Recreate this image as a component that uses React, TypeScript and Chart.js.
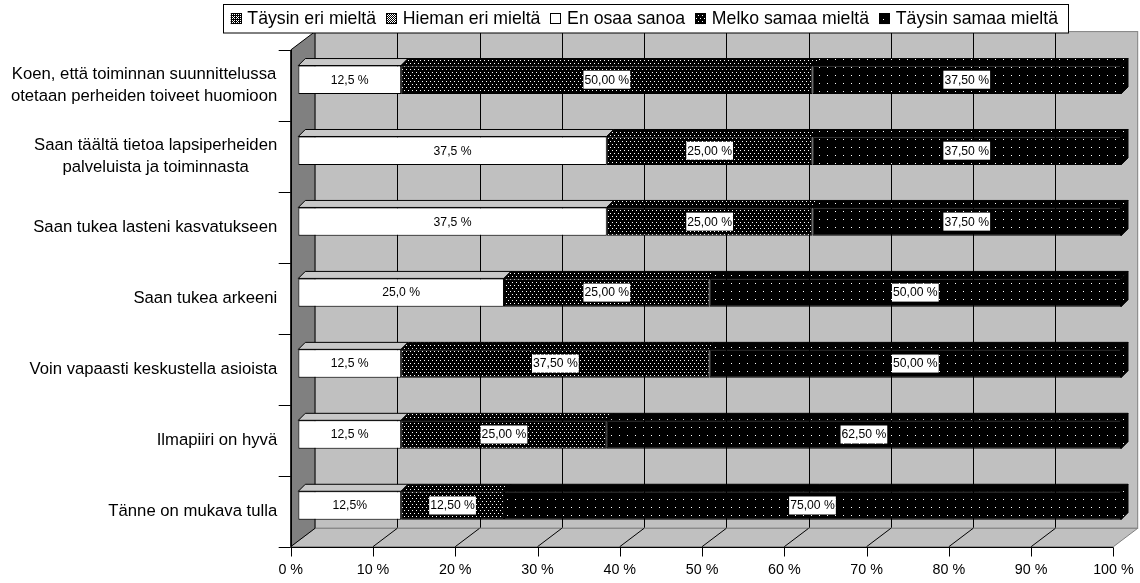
import React, { useEffect, useRef } from "react";
import { Chart, registerables } from "chart.js";

Chart.register(...registerables);

const categories: (string | string[])[] = [
  ["Koen, että toiminnan suunnittelussa", "otetaan perheiden toiveet huomioon"],
  ["Saan täältä tietoa lapsiperheiden", "palveluista ja toiminnasta"],
  "Saan tukea lasteni kasvatukseen",
  "Saan tukea arkeeni",
  "Voin vapaasti keskustella asioista",
  "Ilmapiiri on hyvä",
  "Tänne on mukava tulla",
];

const seriesNames = [
  "Täysin eri mieltä",
  "Hieman eri mieltä",
  "En osaa sanoa",
  "Melko samaa mieltä",
  "Täysin samaa mieltä",
];

const taysinEri = [0, 0, 0, 0, 0, 0, 0];
const hiemanEri = [0, 0, 0, 0, 0, 0, 0];
const enOsaa = [12.5, 37.5, 37.5, 25, 12.5, 12.5, 12.5];
const melko = [50, 25, 25, 25, 37.5, 25, 12.5];
const taysinSamaa = [37.5, 37.5, 37.5, 50, 50, 62.5, 75];

const enOsaaLabels = ["12,5 %", "37,5 %", "37,5 %", "25,0 %", "12,5 %", "12,5 %", "12,5%"];
const melkoLabels = ["50,00 %", "25,00 %", "25,00 %", "25,00 %", "37,50 %", "25,00 %", "12,50 %"];
const taysinSamaaLabels = ["37,50 %", "37,50 %", "37,50 %", "50,00 %", "50,00 %", "62,50 %", "75,00 %"];

const xTicks = [0, 10, 20, 30, 40, 50, 60, 70, 80, 90, 100];
const xTickLabels = ["0 %", "10 %", "20 %", "30 %", "40 %", "50 %", "60 %", "70 %", "80 %", "90 %", "100 %"];

const FONT = '"Liberation Sans", Arial, Helvetica, sans-serif';
// pseudo-3D geometry
const G = { fdx: 7.6, fdy: -5.75, wdx: 24.3, wdy: -18.4, bd: 7 };

function makePattern(
  ctx: CanvasRenderingContext2D,
  w: number,
  h: number,
  bg: string,
  dots: [number, number][],
  dotColor: string
): CanvasPattern {
  const c = document.createElement("canvas");
  c.width = w;
  c.height = h;
  const g = c.getContext("2d")!;
  g.fillStyle = bg;
  g.fillRect(0, 0, w, h);
  g.fillStyle = dotColor;
  dots.forEach(([x, y]) => g.fillRect(x, y, 1, 1));
  return ctx.createPattern(c, "repeat")!;
}

export default function App() {
  const ref = useRef<HTMLCanvasElement | null>(null);

  useEffect(() => {
    const canvas = ref.current!;
    const ctx0 = canvas.getContext("2d")!;

    const pTaysinEri = makePattern(ctx0, 4, 4, "#000", [[0, 0], [2, 0], [0, 2], [2, 2], [1, 1]], "#fff");
    const pHieman = makePattern(ctx0, 2, 2, "#000", [[0, 0], [1, 1]], "#fff");
    const pMelko = makePattern(ctx0, 4, 6, "#000", [[0, 0], [2, 3]], "#fff");
    const pTaysinSamaa = makePattern(ctx0, 8, 8, "#000", [[3, 3]], "#fff");
    const fills: (string | CanvasPattern)[] = [pTaysinEri, pHieman, "#ffffff", pMelko, pTaysinSamaa];
    const topFills: (string | CanvasPattern)[] = [pTaysinEri, pHieman, "#c8c8c8", pMelko, pTaysinSamaa];
    const allData = [taysinEri, hiemanEri, enOsaa, melko, taysinSamaa];
    const allLabels: (string[] | null)[] = [null, null, enOsaaLabels, melkoLabels, taysinSamaaLabels];

    const line = (ctx: CanvasRenderingContext2D, x1: number, y1: number, x2: number, y2: number) => {
      ctx.beginPath();
      ctx.moveTo(x1, y1);
      ctx.lineTo(x2, y2);
      ctx.stroke();
    };

    const threeD = {
      id: "threeD",
      beforeDatasetsDraw(chart: any) {
        const { ctx, chartArea } = chart;
        const xs = chart.scales.x;
        const ys = chart.scales.y;
        const fx = (v: number) => xs.getPixelForValue(v) - G.fdx;
        const top = chartArea.top - G.fdy;
        const bottom = chartArea.bottom - G.fdy;
        const x0 = fx(0);
        const x1 = fx(100);
        ctx.save();
        ctx.lineWidth = 1;

        // back wall
        ctx.fillStyle = "#c0c0c0";
        ctx.fillRect(x0 + G.wdx, top + G.wdy, x1 - x0, bottom - top);
        // gridlines on back wall
        ctx.strokeStyle = "#000";
        xTicks.forEach((v) => {
          if (v === 0 || v === 100) return;
          const px = Math.round(fx(v) + G.wdx) + 0.5;
          line(ctx, px, top + G.wdy, px, bottom + G.wdy);
        });
        ctx.strokeStyle = "#808080";
        ctx.strokeRect(x0 + G.wdx, top + G.wdy, x1 - x0, bottom - top);

        // floor
        ctx.beginPath();
        ctx.moveTo(x0, bottom);
        ctx.lineTo(x1, bottom);
        ctx.lineTo(x1 + G.wdx, bottom + G.wdy);
        ctx.lineTo(x0 + G.wdx, bottom + G.wdy);
        ctx.closePath();
        ctx.fillStyle = "#c0c0c0";
        ctx.fill();
        ctx.strokeStyle = "#808080";
        ctx.stroke();
        // floor gridlines
        ctx.strokeStyle = "#000";
        xTicks.forEach((v) => {
          if (v === 0 || v === 100) return;
          line(ctx, fx(v), bottom, fx(v) + G.wdx, bottom + G.wdy);
        });

        // side wall
        ctx.beginPath();
        ctx.moveTo(x0, top);
        ctx.lineTo(x0 + G.wdx, top + G.wdy);
        ctx.lineTo(x0 + G.wdx, bottom + G.wdy);
        ctx.lineTo(x0, bottom);
        ctx.closePath();
        ctx.fillStyle = "#808080";
        ctx.fill();
        ctx.strokeStyle = "#000";
        ctx.stroke();

        // axes
        ctx.strokeStyle = "#000";
        const by = Math.round(bottom) + 0.5;
        line(ctx, x0, by, x1, by);
        const lx = Math.round(x0) + 0.5;
        line(ctx, lx, top, lx, bottom);
        xTicks.forEach((v) => {
          const px = Math.round(fx(v)) + 0.5;
          line(ctx, px, by, px, by + 9);
        });
        ctx.fillStyle = "#000";
        ctx.font = `14.3px ${FONT}`;
        ctx.textAlign = "center";
        ctx.textBaseline = "middle";
        xTicks.forEach((v, i) => {
          ctx.fillText(xTickLabels[i], fx(v), 570.5);
        });

        // category ticks and labels
        const n = categories.length;
        const step = (bottom - top) / n;
        for (let k = 0; k <= n; k++) {
          const yy = Math.round(top + k * step) + 0.5;
          line(ctx, x0 - 12, yy, x0, yy);
        }
        ctx.font = `16.7px ${FONT}`;
        const labelRight = x0 - 13.5;
        categories.forEach((c, i) => {
          const lines = Array.isArray(c) ? c : [c];
          const cy = ys.getPixelForValue(i) - G.fdy;
          const maxW = Math.max(...lines.map((l) => ctx.measureText(l).width));
          const cx = labelRight - maxW / 2;
          const lh = 22;
          lines.forEach((l, j) => {
            const yy = cy + (j - (lines.length - 1) / 2) * lh;
            ctx.fillText(l, cx, yy);
          });
        });
        ctx.restore();
      },
      afterDatasetsDraw(chart: any) {
        const { ctx } = chart;
        ctx.save();
        ctx.lineWidth = 1;
        ctx.strokeStyle = "#000";
        const n = categories.length;
        for (let j = 0; j < n; j++) {
          let last = -1;
          allData.forEach((d, i) => {
            if (d[j] > 0) last = i;
          });
          allData.forEach((d, i) => {
            if (!(d[j] > 0)) return;
            const el = chart.getDatasetMeta(i).data[j];
            const { x, y, base, height } = el.getProps(["x", "y", "base", "height"], true);
            const yt = y - height / 2;
            const yb = y + height / 2;
            // top face
            ctx.beginPath();
            ctx.moveTo(base, yt);
            ctx.lineTo(x, yt);
            ctx.lineTo(x + G.bd, yt - G.bd);
            ctx.lineTo(base + G.bd, yt - G.bd);
            ctx.closePath();
            ctx.fillStyle = topFills[i];
            ctx.fill();
            ctx.stroke();
            if (i === last) {
              ctx.beginPath();
              ctx.moveTo(x, yt);
              ctx.lineTo(x + G.bd, yt - G.bd);
              ctx.lineTo(x + G.bd, yb - G.bd);
              ctx.lineTo(x, yb);
              ctx.closePath();
              ctx.fillStyle = topFills[i];
              ctx.fill();
              ctx.stroke();
            }
          });
          // labels
          allData.forEach((d, i) => {
            const labs = allLabels[i];
            if (!labs || !(d[j] > 0)) return;
            const el = chart.getDatasetMeta(i).data[j];
            const { x, y, base } = el.getProps(["x", "y", "base"], true);
            const cx = (x + base) / 2;
            ctx.font = `12.2px ${FONT}`;
            ctx.textAlign = "center";
            ctx.textBaseline = "middle";
            const w = ctx.measureText(labs[j]).width;
            ctx.fillStyle = "#fff";
            ctx.fillRect(cx - w / 2 - 1, y - 9, w + 2, 18);
            ctx.fillStyle = "#000";
            ctx.fillText(labs[j], cx, y + 0.5);
          });
        }
        ctx.restore();
      },
      afterDraw(chart: any) {
        const { ctx } = chart;
        ctx.save();
        ctx.font = `17.7px ${FONT}`;
        ctx.textBaseline = "middle";
        ctx.textAlign = "left";
        const icon = 10.7;
        const gapIconText = 6;
        const gapItems = 10;
        const widths = seriesNames.map((s) => ctx.measureText(s).width);
        const total =
          widths.reduce((a, b) => a + b, 0) + seriesNames.length * (icon + gapIconText) + (seriesNames.length - 1) * gapItems;
        const textEnd = 1058;
        let cx = textEnd - total;
        const boxL = cx - 8;
        ctx.fillStyle = "#fff";
        ctx.fillRect(boxL, 4, 1068 - boxL, 29);
        ctx.strokeStyle = "#000";
        ctx.lineWidth = 1;
        ctx.strokeRect(Math.round(boxL) + 0.5, 4.5, 1068 - Math.round(boxL), 28.5);
        const cy = 18.7;
        seriesNames.forEach((s, i) => {
          ctx.fillStyle = fills[i];
          ctx.fillRect(cx, cy - icon / 2, icon, icon);
          ctx.strokeRect(Math.round(cx) + 0.5, Math.round(cy - icon / 2) + 0.5, 10, 10);
          cx += icon + gapIconText;
          ctx.fillStyle = "#000";
          ctx.fillText(s, cx, cy + 0.5);
          cx += widths[i] + gapItems;
        });
        ctx.restore();
      },
    };

    const chart = new Chart(canvas, {
      type: "bar",
      data: {
        labels: categories.map((c) => (Array.isArray(c) ? c.join(" ") : c)),
        datasets: allData.map((d, i) => ({
          label: seriesNames[i],
          data: d,
          backgroundColor: fills[i] as any,
          borderColor: "#000",
          borderWidth: d.some((v) => v > 0) ? 1 : 0,
          borderSkipped: false,
          barPercentage: 0.4,
          categoryPercentage: 1,
        })),
      },
      options: {
        animation: false,
        responsive: false,
        maintainAspectRatio: false,
        indexAxis: "y",
        layout: { padding: { left: 298.3, right: 19, top: 44.25, bottom: 42.05 } },
        plugins: { legend: { display: false }, tooltip: { enabled: false } },
        events: [],
        scales: {
          x: { stacked: true, min: 0, max: 100, display: false },
          y: { stacked: true, display: false },
        },
      },
      plugins: [threeD],
    } as any);

    return () => chart.destroy();
  }, []);

  return (
    <div style={{ position: "absolute", left: 0, top: 0, width: 1140, height: 583, background: "#fff" }}>
      <canvas ref={ref} width={1140} height={583} style={{ display: "block", width: 1140, height: 583 }} />
    </div>
  );
}
